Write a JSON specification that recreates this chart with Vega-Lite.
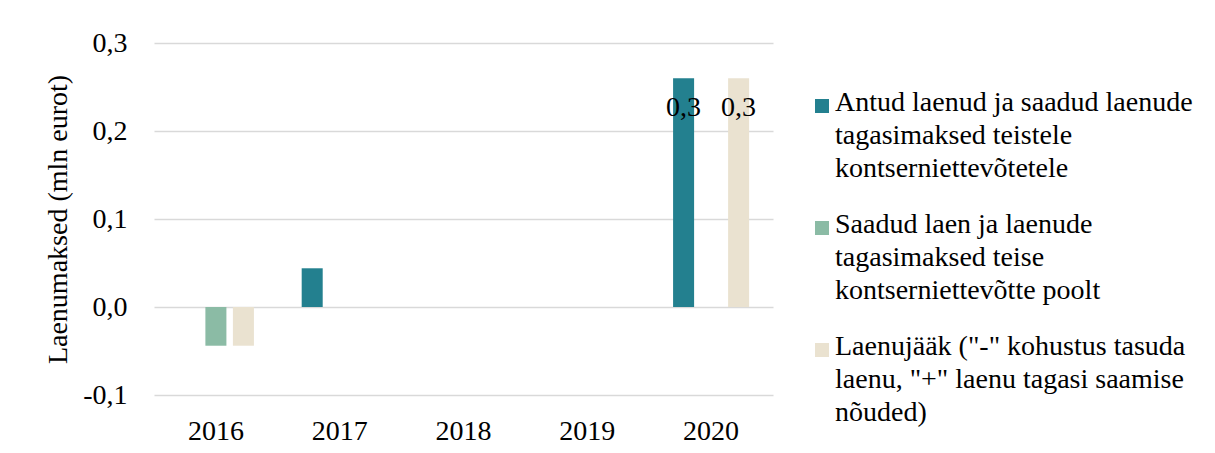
{
  "$schema": "https://vega.github.io/schema/vega-lite/v6.json",
  "autosize": "none",
  "width": 619,
  "height": 352,
  "padding": {"left": 154, "top": 43, "right": 442, "bottom": 58},
  "background": "white",
  "config": {
    "view": {"stroke": null},
    "font": "Liberation Serif",
    "locale": {"number": {"decimal": ",", "thousands": " ", "grouping": [3], "currency": ["", " €"], "minus": "-"}},
    "axis": {"labelFont": "Liberation Serif", "titleFont": "Liberation Serif", "labelColor": "#000", "titleColor": "#000", "labelFontSize": 28, "titleFontSize": 28, "titleFontWeight": "normal"}
  },
  "data": {"values": [
    {"year": "2016", "series": "Antud laenud ja saadud laenude tagasimaksed teistele kontserniettevõtetele", "value": 0},
    {"year": "2016", "series": "Saadud laen ja laenude tagasimaksed teise kontserniettevõtte poolt", "value": -0.044},
    {"year": "2016", "series": "Laenujääk (\"-\" kohustus tasuda laenu, \"+\" laenu tagasi saamise nõuded)", "value": -0.044},
    {"year": "2017", "series": "Antud laenud ja saadud laenude tagasimaksed teistele kontserniettevõtetele", "value": 0.044},
    {"year": "2017", "series": "Saadud laen ja laenude tagasimaksed teise kontserniettevõtte poolt", "value": 0},
    {"year": "2017", "series": "Laenujääk (\"-\" kohustus tasuda laenu, \"+\" laenu tagasi saamise nõuded)", "value": 0},
    {"year": "2018", "series": "Antud laenud ja saadud laenude tagasimaksed teistele kontserniettevõtetele", "value": 0},
    {"year": "2018", "series": "Saadud laen ja laenude tagasimaksed teise kontserniettevõtte poolt", "value": 0},
    {"year": "2018", "series": "Laenujääk (\"-\" kohustus tasuda laenu, \"+\" laenu tagasi saamise nõuded)", "value": 0},
    {"year": "2019", "series": "Antud laenud ja saadud laenude tagasimaksed teistele kontserniettevõtetele", "value": 0},
    {"year": "2019", "series": "Saadud laen ja laenude tagasimaksed teise kontserniettevõtte poolt", "value": 0},
    {"year": "2019", "series": "Laenujääk (\"-\" kohustus tasuda laenu, \"+\" laenu tagasi saamise nõuded)", "value": 0},
    {"year": "2020", "series": "Antud laenud ja saadud laenude tagasimaksed teistele kontserniettevõtetele", "value": 0.26},
    {"year": "2020", "series": "Saadud laen ja laenude tagasimaksed teise kontserniettevõtte poolt", "value": 0},
    {"year": "2020", "series": "Laenujääk (\"-\" kohustus tasuda laenu, \"+\" laenu tagasi saamise nõuded)", "value": 0.26}
  ]},
  "encoding": {
    "x": {"field": "year", "type": "nominal", "scale": {"paddingInner": 0, "paddingOuter": 0},
      "axis": {"title": null, "labelAngle": 0, "domain": false, "ticks": false, "labelPadding": 22}},
    "xOffset": {"field": "series", "type": "nominal",
      "scale": {"domain": ["Antud laenud ja saadud laenude tagasimaksed teistele kontserniettevõtetele", "Saadud laen ja laenude tagasimaksed teise kontserniettevõtte poolt", "Laenujääk (\"-\" kohustus tasuda laenu, \"+\" laenu tagasi saamise nõuded)"], "paddingInner": 0.236, "paddingOuter": 0.868}},
    "y": {"field": "value", "type": "quantitative", "scale": {"domain": [-0.1, 0.3], "nice": false, "zero": false},
      "axis": {"title": "Laenumaksed (mln eurot)", "values": [-0.1, 0, 0.1, 0.2, 0.3], "format": ".1f", "domain": false, "ticks": false, "gridColor": "#D9D9D9", "gridWidth": 1.5, "labelPadding": 27, "titlePadding": 10}}
  },
  "layer": [
    {
      "mark": {"type": "bar"},
      "encoding": {
        "color": {"field": "series", "type": "nominal",
          "scale": {"domain": ["Antud laenud ja saadud laenude tagasimaksed teistele kontserniettevõtetele", "Saadud laen ja laenude tagasimaksed teise kontserniettevõtte poolt", "Laenujääk (\"-\" kohustus tasuda laenu, \"+\" laenu tagasi saamise nõuded)"], "range": ["#23808F", "#8BBBA5", "#EAE2D0"]},
          "legend": {"title": null, "orient": "none", "legendX": 654, "legendY": 49, "symbolType": "square", "symbolSize": 196, "symbolStrokeWidth": 0, "labelFontSize": 28, "labelFont": "Liberation Serif", "labelColor": "#000", "labelLimit": 500, "labelOffset": -1, "labelBaseline": "top", "rowPadding": 28,
            "labelExpr": "indexof(datum.label, 'Antud') == 0 ? ['Antud laenud ja saadud laenude', 'tagasimaksed teistele', 'kontserniettevõtetele'] : indexof(datum.label, 'Saadud') == 0 ? ['Saadud laen ja laenude', 'tagasimaksed teise', 'kontserniettevõtte poolt'] : ['Laenujääk (\"-\" kohustus tasuda', 'laenu, \"+\" laenu tagasi saamise', 'nõuded)']",
            "encode": {"labels": {"update": {"lineHeight": {"value": 33}, "dy": {"value": -17}}}}}
        }
      }
    },
    {
      "transform": [{"filter": "datum.year == '2020' && datum.value != 0"}],
      "mark": {"type": "text", "baseline": "middle", "dy": 30, "fontSize": 28, "font": "Liberation Serif", "color": "#000"},
      "encoding": {"text": {"field": "value", "type": "quantitative", "format": ".1f"}}
    }
  ]
}
